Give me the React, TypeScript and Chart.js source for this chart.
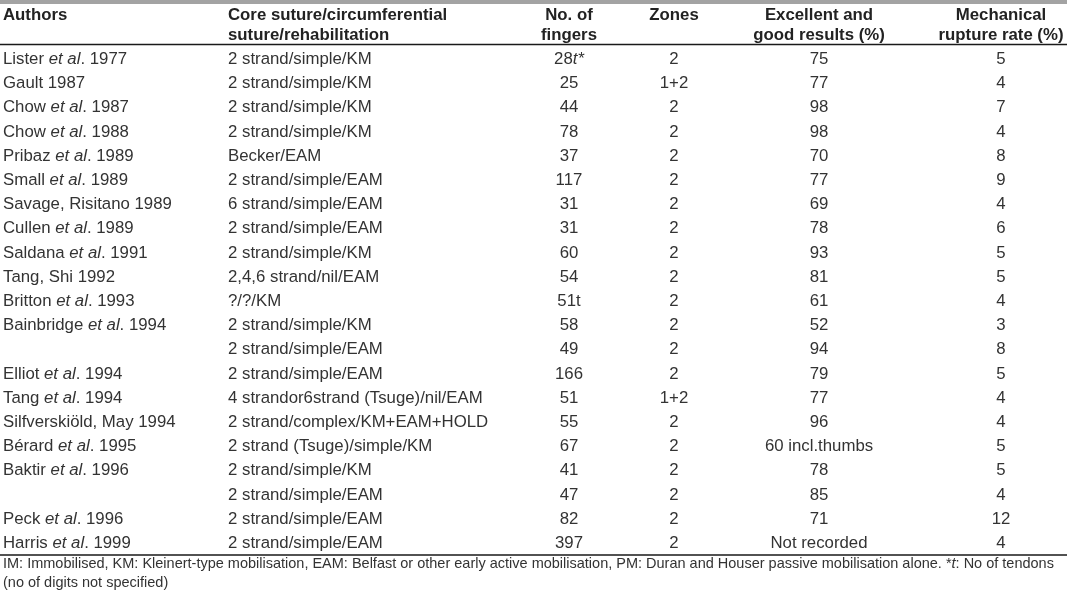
import { useEffect, useRef } from "react";
import { Chart, registerables } from "chart.js";

Chart.register(...registerables);

// ---------- data ----------
const authors = [
  "Lister _et al_. 1977",
  "Gault 1987",
  "Chow _et al_. 1987",
  "Chow _et al_. 1988",
  "Pribaz _et al_. 1989",
  "Small _et al_. 1989",
  "Savage, Risitano 1989",
  "Cullen _et al_. 1989",
  "Saldana _et al_. 1991",
  "Tang, Shi 1992",
  "Britton _et al_. 1993",
  "Bainbridge _et al_. 1994",
  "",
  "Elliot _et al_. 1994",
  "Tang _et al_. 1994",
  "Silfverskiöld, May 1994",
  "Bérard _et al_. 1995",
  "Baktir _et al_. 1996",
  "",
  "Peck _et al_. 1996",
  "Harris _et al_. 1999",
];

const sutures = [
  "2 strand/simple/KM",
  "2 strand/simple/KM",
  "2 strand/simple/KM",
  "2 strand/simple/KM",
  "Becker/EAM",
  "2 strand/simple/EAM",
  "6 strand/simple/EAM",
  "2 strand/simple/EAM",
  "2 strand/simple/KM",
  "2,4,6 strand/nil/EAM",
  "?/?/KM",
  "2 strand/simple/KM",
  "2 strand/simple/EAM",
  "2 strand/simple/EAM",
  "4 strandor6strand (Tsuge)/nil/EAM",
  "2 strand/complex/KM+EAM+HOLD",
  "2 strand (Tsuge)/simple/KM",
  "2 strand/simple/KM",
  "2 strand/simple/EAM",
  "2 strand/simple/EAM",
  "2 strand/simple/EAM",
];

const fingers = [
  "28_t*_", "25", "44", "78", "37", "117", "31", "31", "60", "54", "51t",
  "58", "49", "166", "51", "55", "67", "41", "47", "82", "397",
];

const zones = [
  "2", "1+2", "2", "2", "2", "2", "2", "2", "2", "2", "2",
  "2", "2", "2", "1+2", "2", "2", "2", "2", "2", "2",
];

const results = [
  "75", "77", "98", "98", "70", "77", "69", "78", "93", "81", "61",
  "52", "94", "79", "77", "96", "60 incl.thumbs", "78", "85", "71", "Not recorded",
];

const rupture = [5, 4, 7, 4, 8, 9, 4, 6, 5, 5, 4, 3, 8, 5, 4, 4, 5, 5, 4, 12, 4];

const headerLine1 = ["Authors", "Core suture/circumferential", "No. of", "Zones", "Excellent and", "Mechanical"];
const headerLine2 = ["", "suture/rehabilitation", "fingers", "", "good results (%)", "rupture rate (%)"];

const footnotes = [
  "IM: Immobilised, KM: Kleinert-type mobilisation, EAM: Belfast or other early active mobilisation, PM: Duran and Houser passive mobilisation alone. *_t_: No of tendons",
  "(no of digits not specified)",
];

// ---------- layout ----------
const W = 1067;
const H = 597;
const ROW0 = 64; // baseline of first row (px)
const ROW_H = 24.2;
const Y_MIN = -ROW0 / ROW_H;
const Y_MAX = Y_MIN + H / ROW_H;
const COLS: { x: number; align: "left" | "center" }[] = [
  { x: 3, align: "left" },
  { x: 228, align: "left" },
  { x: 569, align: "center" },
  { x: 674, align: "center" },
  { x: 819, align: "center" },
  { x: 1001, align: "center" },
];
const HEAD_Y1 = (19.5 - ROW0) / ROW_H;
const HEAD_Y2 = (39.5 - ROW0) / ROW_H;
const HEAD_RULE = (44.5 - ROW0) / ROW_H;
const FOOT_RULE = (555 - ROW0) / ROW_H;
const FOOT_Y1 = (567.5 - ROW0) / ROW_H;
const FOOT_Y2 = (586.5 - ROW0) / ROW_H;
const FONT = '"Liberation Sans", Arial, Helvetica, sans-serif';
const BODY_SIZE = 16.8;
const FOOT_SIZE = 14.5;
const TEXT = "#333333";
const HEAD = "#222222";

function drawRich(
  ctx: CanvasRenderingContext2D,
  s: string,
  x: number,
  y: number,
  align: "left" | "center",
  size: number,
  weight: string,
  color: string
) {
  const parts = s
    .split("_")
    .map((t, i) => ({ t, it: i % 2 === 1 }))
    .filter((p) => p.t.length > 0);
  const font = (it: boolean) => `${it ? "italic " : ""}${weight} ${size}px ${FONT}`;
  let w = 0;
  for (const p of parts) {
    ctx.font = font(p.it);
    w += ctx.measureText(p.t).width;
  }
  let cx = align === "center" ? x - w / 2 : x;
  ctx.fillStyle = color;
  ctx.textAlign = "left";
  ctx.textBaseline = "alphabetic";
  for (const p of parts) {
    ctx.font = font(p.it);
    ctx.fillText(p.t, cx, y);
    cx += ctx.measureText(p.t).width;
  }
}

const columns: (string | number)[][] = [authors, sutures, fingers, zones, results, rupture];

const tablePlugin = {
  id: "tableText",
  afterDatasetsDraw(chart: any) {
    const ctx: CanvasRenderingContext2D = chart.ctx;
    const xs = chart.scales.x;
    const ys = chart.scales.y;
    ctx.save();
    // top grey band
    ctx.fillStyle = "#a3a3a3";
    ctx.fillRect(0, 0, W, 4);
    // header
    headerLine1.forEach((t, c) => {
      if (t) drawRich(ctx, t, xs.getPixelForValue(COLS[c].x), ys.getPixelForValue(HEAD_Y1), COLS[c].align, BODY_SIZE, "bold", HEAD);
    });
    headerLine2.forEach((t, c) => {
      if (t) drawRich(ctx, t, xs.getPixelForValue(COLS[c].x), ys.getPixelForValue(HEAD_Y2), COLS[c].align, BODY_SIZE, "bold", HEAD);
    });
    // rules
    ctx.fillStyle = "#1a1a1a";
    const r1 = ys.getPixelForValue(HEAD_RULE);
    const r2 = ys.getPixelForValue(FOOT_RULE);
    ctx.fillRect(0, r1 - 0.75, W, 1.5);
    ctx.fillRect(0, r2 - 0.75, W, 1.5);
    // cells
    chart.data.datasets.forEach((ds: any, di: number) => {
      const meta = chart.getDatasetMeta(di);
      meta.data.forEach((el: any, i: number) => {
        const label = String(ds.cellLabels[i]);
        if (label) drawRich(ctx, label, el.x, el.y, ds.cellAlign, BODY_SIZE, "normal", TEXT);
      });
    });
    // footnotes
    drawRich(ctx, footnotes[0], 3, ys.getPixelForValue(FOOT_Y1), "left", FOOT_SIZE, "normal", TEXT);
    drawRich(ctx, footnotes[1], 3, ys.getPixelForValue(FOOT_Y2), "left", FOOT_SIZE, "normal", TEXT);
    ctx.restore();
  },
};

export default function App() {
  const ref = useRef<HTMLCanvasElement | null>(null);
  useEffect(() => {
    if (!ref.current) return;
    const datasets = columns.map((col, c) => ({
      label: headerLine1[c],
      data: col.map((_, i) => ({ x: COLS[c].x, y: i })),
      cellLabels: col,
      cellAlign: COLS[c].align,
      pointRadius: 0,
      pointHoverRadius: 0,
      showLine: false,
    }));
    const chart = new Chart(ref.current, {
      type: "scatter",
      data: { datasets: datasets as any },
      options: {
        animation: false,
        responsive: false,
        devicePixelRatio: 1,
        layout: { padding: 0 },
        events: [],
        plugins: { legend: { display: false }, tooltip: { enabled: false }, title: { display: false } },
        scales: {
          x: { type: "linear", min: 0, max: W, display: false },
          y: { type: "linear", min: Y_MIN, max: Y_MAX, reverse: true, display: false },
        },
      },
      plugins: [tablePlugin],
    });
    return () => chart.destroy();
  }, []);
  return (
    <div style={{ position: "absolute", left: 0, top: 0, width: W, height: H, background: "#fff" }}>
      <canvas ref={ref} width={W} height={H} style={{ display: "block" }} />
    </div>
  );
}
